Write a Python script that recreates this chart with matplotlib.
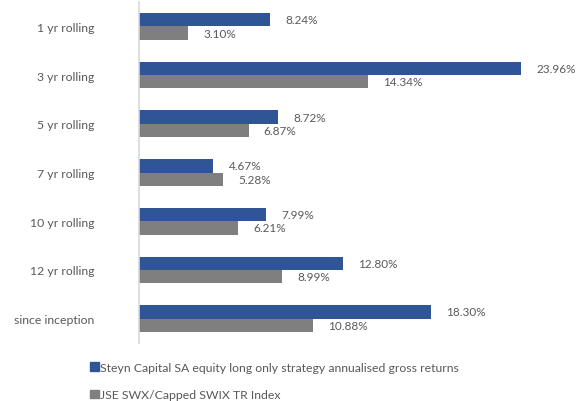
import matplotlib.pyplot as plt
import numpy as np
from matplotlib.patches import Patch

# Chart data
categories = ['1 yr rolling', '3 yr rolling', '5 yr rolling', '7 yr rolling',
              '10 yr rolling', '12 yr rolling', 'since inception']
steyn = [8.24, 23.96, 8.72, 4.67, 7.99, 12.80, 18.30]
jse = [3.10, 14.34, 6.87, 5.28, 6.21, 8.99, 10.88]
series_names = ['Steyn Capital SA equity long only strategy annualised gross returns',
                'JSE SWX/Capped SWIX TR Index']

BLUE = '#2F5597'
GREY = '#7F7F7F'
TEXT = '#595959'

plt.rcParams['font.family'] = ['Lato', 'DejaVu Sans']

fig = plt.figure(figsize=(5.87, 4.02), dpi=100)
ax = fig.add_axes([0.2368, 0.1443, 0.75, 0.8482])

y = np.arange(len(categories))
h = 0.275

b1 = ax.barh(y - h / 2, steyn, height=h, color=BLUE)
b2 = ax.barh(y + h / 2, jse, height=h, color=GREY)

for bars, vals in ((b1, steyn), (b2, jse)):
    for bar, v in zip(bars, vals):
        ax.annotate('%.2f%%' % v, (bar.get_width(), bar.get_y() + bar.get_height() / 2),
                    xytext=(11, 0), textcoords='offset points',
                    ha='left', va='center', fontsize=8.5, color=TEXT)

ax.set_ylim(len(categories) - 0.5, -0.5)
ax.set_xlim(0, 27.6)
ax.set_yticks(y)
ax.set_yticklabels(categories, fontsize=8.8, color=TEXT)
ax.tick_params(axis='y', length=0, pad=32)
ax.set_xticks([])
for s in ['top', 'right', 'bottom']:
    ax.spines[s].set_visible(False)
ax.spines['left'].set_color('#D9D9D9')
ax.spines['left'].set_linewidth(1.2)

handles = [Patch(color=BLUE), Patch(color=GREY)]
leg = fig.legend(handles, series_names, loc='upper left', bbox_to_anchor=(0.145, 0.11),
                 frameon=False, fontsize=8.8, handlelength=0.7, handleheight=0.7,
                 handletextpad=0.15, labelspacing=1.35, borderaxespad=0)
for t in leg.get_texts():
    t.set_color(TEXT)

fig.savefig('out.png', dpi=100)
